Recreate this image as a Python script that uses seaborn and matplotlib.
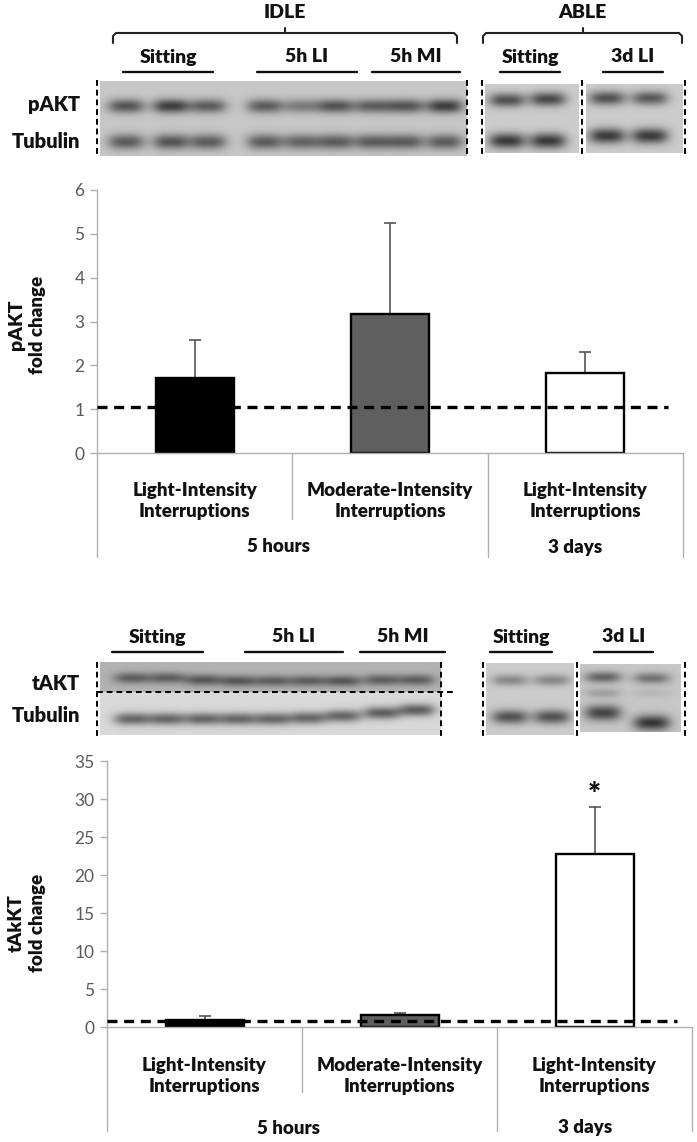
import numpy as np
import pandas as pd
import matplotlib
matplotlib.use('Agg')
import matplotlib.pyplot as plt
import seaborn as sns

sns.set_style('white')
plt.rcParams['font.family'] = ['Lato', 'DejaVu Sans']

# ---- bar chart data ----
categories = ['5h LI', '5h MI', '3d LI']
cat_labels = ['Light-Intensity\nInterruptions',
              'Moderate-Intensity\nInterruptions',
              'Light-Intensity\nInterruptions']
group_labels = ['5 hours', '3 days']
bar_colors = ['black', '#5f5f5f', 'white']

pakt_mean = [1.71, 3.17, 1.83]
pakt_err = [0.87, 2.08, 0.47]
pakt_ref = 1.05
pakt_ticks = [0, 1, 2, 3, 4, 5, 6]

takt_mean = [0.9, 1.6, 22.8]
takt_err = [0.5, 0.3, 6.2]
takt_ref = 0.8
takt_ticks = [0, 5, 10, 15, 20, 25, 30, 35]
takt_sig = ['', '', '*']

# ---- blot band intensities (per lane) ----
top_pakt_idle = [0.75, 0.9, 0.7, 0.7, 0.5, 0.75, 0.7, 0.75, 0.9]
top_tub_idle = [0.7, 0.75, 0.7, 0.7, 0.65, 0.7, 0.7, 0.7, 0.7]
top_pakt_sit = [0.8, 0.85]
top_tub_sit = [0.95, 0.95]
top_pakt_3d = [0.8, 0.75]
top_tub_3d = [0.95, 0.95]

bot_takt_idle = [0.55, 0.55, 0.6, 0.6, 0.55, 0.55, 0.6, 0.55, 0.55]
bot_tub_idle = [0.75, 0.75, 0.75, 0.75, 0.75, 0.75, 0.75, 0.8, 0.8]
bot_takt_sit = [0.45, 0.45]
bot_tub_sit = [0.8, 0.8]
bot_takt_3d = [0.65, 0.55]
bot_tub_3d = [0.85, 0.95]

W, H = 697, 1142
fig = plt.figure(figsize=(W / 100, H / 100), dpi=100)


def rect(x0, y0, x1, y1):
    return [x0 / W, 1 - y1 / H, (x1 - x0) / W, (y1 - y0) / H]


ov = fig.add_axes([0, 0, 1, 1])
ov.axis('off')
bold = dict(fontweight='heavy', color='#111111')


def blot(x0, y0, x1, y1, lanes, bands, bg=0.78):
    xs = np.linspace(x0, x1, int((x1 - x0) * 2))
    ys = np.linspace(y0, y1, int((y1 - y0) * 2))
    X, Y = np.meshgrid(xs, ys)
    img = np.full_like(X, bg)
    for yc, vals, sy, shifts in bands:
        for lx, v, dy in zip(lanes, vals, shifts):
            img -= 0.6 * v * np.exp(-(np.abs(X - lx) / 18.5) ** 3) * \
                np.exp(-0.5 * ((Y - yc - dy) / sy) ** 2)
    ov.imshow(np.clip(img, 0, 1), cmap='gray', vmin=0, vmax=1,
              extent=(x0, x1, y1, y0), aspect='auto',
              interpolation='bilinear', zorder=1)


def vdash(x, y0, y1):
    ov.plot([x, x], [y0, y1], color='black', lw=1.4, ls=(0, (3, 2)), zorder=3)


def bracket(x0, x1, y, label, ytext):
    xc = (x0 + x1) / 2
    ov.plot([x0, x0, x0 + 3, x1 - 3, x1, x1], [y + 10, y + 3, y, y, y + 3, y + 10],
            color='#222222', lw=1.5)
    ov.plot([xc, xc], [y, y - 5], color='#222222', lw=1.5)
    ov.text(xc, ytext, label, ha='center', va='center', fontsize=14, **bold)


def lane_label(x0, x1, y, label):
    ov.plot([x0, x1], [y, y], color='#111111', lw=1.7)
    ov.text((x0 + x1) / 2, y - 15, label, ha='center', va='center', fontsize=14, **bold)


# ---- top blot ----
bracket(113, 457, 33, 'IDLE', 12)
bracket(483, 682, 33, 'ABLE', 12)
for x0, x1, lab in [(123, 213, 'Sitting'), (257, 357, '5h LI'), (372, 460, '5h MI'),
                    (500, 560, 'Sitting'), (603, 663, '3d LI')]:
    lane_label(x0, x1, 72, lab)

idle_lanes = [126, 171, 208, 265, 302, 336, 373, 406, 445]
zero9 = [0] * 9
blot(100, 81, 467, 156, idle_lanes,
     [(106, top_pakt_idle, 5.0, zero9), (142, top_tub_idle, 5.5, zero9)])
blot(485, 84, 579, 153, [507, 548],
     [(100, top_pakt_sit, 5.0, [0, -1]), (141, top_tub_sit, 5.5, [0, 0])], bg=0.8)
blot(586, 84, 683, 153, [607, 650],
     [(98, top_pakt_3d, 5.0, [0, 0]), (136, top_tub_3d, 5.5, [0, 0])], bg=0.8)
for x in [97, 467, 482, 582, 685]:
    vdash(x, 80, 157)
ov.text(80, 104, 'pAKT', ha='right', va='center', fontsize=14.5, **bold)
ov.text(80, 142, 'Tubulin', ha='right', va='center', fontsize=14.5, **bold)

# ---- bottom blot ----
for x0, x1, lab in [(112, 203, 'Sitting'), (245, 343, '5h LI'), (360, 445, '5h MI'),
                    (490, 552, 'Sitting'), (594, 653, '3d LI')]:
    lane_label(x0, x1, 652, lab)

idle_lanes2 = [132, 167, 203, 238, 273, 308, 343, 382, 417]
blot(100, 662, 441, 692, idle_lanes2,
     [(678, bot_takt_idle, 4.0, [0, 0, 2, 3, 3, 3, 3, 2, 2])], bg=0.7)
blot(100, 692, 441, 735, idle_lanes2,
     [(719, bot_tub_idle, 4.5, [0, 0, 0, 0, 0, -1, -3, -6, -9])], bg=0.85)
blot(486, 663, 574, 735, [510, 552],
     [(680, bot_takt_sit, 4.0, [0, 0]), (717, bot_tub_sit, 5.0, [0, 0])], bg=0.8)
blot(580, 664, 681, 732, [603, 652],
     [(677, bot_takt_3d, 4.0, [0, 1]), (693, [0.25, 0.1], 3.5, [0, 0]),
      (713, bot_tub_3d, 5.5, [0, 10])], bg=0.78)
ov.plot([97, 455], [692, 692], color='black', lw=1.4, ls=(0, (3, 2)), zorder=3)
for x in [97, 441, 483, 577, 685]:
    vdash(x, 662, 736)
ov.text(80, 683, 'tAKT', ha='right', va='center', fontsize=14.5, **bold)
ov.text(80, 716, 'Tubulin', ha='right', va='center', fontsize=14.5, **bold)

# y-axis titles (two lines each)
for (x1, x2, yc), first in [((17, 38, 325), 'pAKT'), ((16, 37, 923), 'tAkKT')]:
    ov.text(x1, yc, first, rotation=90, ha='center', va='center', fontsize=14, **bold)
    ov.text(x2, yc, 'fold change', rotation=90, ha='center', va='center',
            fontsize=13.5, **bold)

ov.set_xlim(0, W)
ov.set_ylim(H, 0)


def bar_panel(box, means, errs, ref, ticks, y_lines, sig=None):
    x0, ytop, x1, ybase = box
    ax = fig.add_axes(rect(x0, ytop, x1, ybase))
    ax.patch.set_alpha(0)
    df = pd.DataFrame({'group': categories, 'value': means})
    sns.barplot(data=df, x='group', y='value', hue='group', order=categories,
                palette=bar_colors, width=0.4, edgecolor='black', linewidth=1.7,
                legend=False, ax=ax, zorder=2)
    ax.errorbar(range(len(means)), means, yerr=[np.zeros(len(errs)), errs],
                fmt='none', ecolor='#555555', elinewidth=1.2, capsize=4,
                capthick=1.2, zorder=1)
    ax.axhline(ref, xmin=0, xmax=0.974, color='black', lw=2.4,
               ls=(0, (3, 2)), zorder=3)
    ax.set_xlim(-0.5, 2.5)
    ax.set_ylim(ticks[0], ticks[-1])
    ax.set_yticks(ticks)
    ax.set_yticklabels([str(t) for t in ticks], fontsize=12.5, color='#595959')
    ax.tick_params(axis='y', length=5, width=1, color='#b0b0b0', pad=4, left=True)
    ax.set_xticks([])
    ax.set_xlabel('')
    ax.set_ylabel('')
    sns.despine(ax=ax)
    for s in ['left', 'bottom']:
        ax.spines[s].set_color('#b0b0b0')
        ax.spines[s].set_linewidth(1.0)

    hpx = ybase - ytop

    def f(ypx):
        return (ybase - ypx) / hpx

    tr = ax.get_xaxis_transform()
    y_lab, y_div, y_grp, y_end = y_lines
    for xb, yb in [(-0.5, y_end), (0.5, y_div), (1.5, y_end), (2.5, y_end)]:
        ax.plot([xb, xb], [0, f(yb)], transform=tr, color='#b0b0b0', lw=1.0,
                clip_on=False)
    for i, lab in enumerate(cat_labels):
        ax.text(i, f(y_lab), lab, transform=tr, ha='center', va='center',
                fontsize=13.5, linespacing=1.3, **bold)
    for xg, lab in zip([0.43, 1.95], group_labels):
        ax.text(xg, f(y_grp), lab, transform=tr, ha='center', va='center',
                fontsize=13.5, **bold)
    if sig:
        for i, s in enumerate(sig):
            if s:
                ax.annotate(s, (i, means[i] + errs[i]), xytext=(0, -2),
                            textcoords='offset points', ha='center', va='bottom',
                            fontsize=22, **bold)
    return ax


bar_panel((97, 190, 683, 453), pakt_mean, pakt_err, pakt_ref, pakt_ticks,
          (501, 519, 547, 557))
bar_panel((107, 761, 692, 1027), takt_mean, takt_err, takt_ref, takt_ticks,
          (1076, 1092, 1128, 1131), sig=takt_sig)

fig.savefig('out.png', dpi=100)
